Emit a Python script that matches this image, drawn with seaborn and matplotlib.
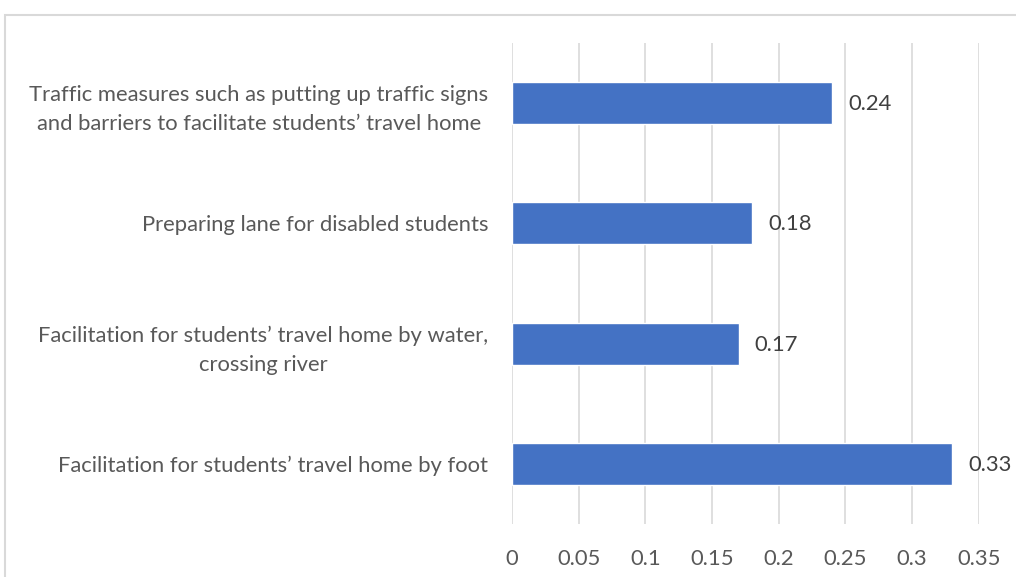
import matplotlib
matplotlib.use("Agg")
import matplotlib.pyplot as plt
import seaborn as sns
import pandas as pd
from matplotlib.patches import Rectangle

categories = [
    "Traffic measures such as putting up traffic signs\nand barriers to facilitate students\u2019 travel home",
    "Preparing lane for disabled students",
    "Facilitation for students\u2019 travel home by water,\ncrossing river",
    "Facilitation for students\u2019 travel home by foot",
]
values = [0.24, 0.18, 0.17, 0.33]
xticks = [0, 0.05, 0.1, 0.15, 0.2, 0.25, 0.3, 0.35]
xtick_labels = ["0", "0.05", "0.1", "0.15", "0.2", "0.25", "0.3", "0.35"]

sns.set_style("white")
plt.rcParams['font.family'] = ['Lato', 'DejaVu Sans']

df = pd.DataFrame({"cat": categories, "val": values})

fig = plt.figure(figsize=(10.16, 5.77), dpi=100)
ax = fig.add_axes([512/1016, 1-524/577, (978.7-512)/1016, (524-43)/577])

sns.barplot(data=df, y="cat", x="val", orient="h", color="#4472C4",
            width=0.35, ax=ax, saturation=1, zorder=3)

FS = 15.8
ax.set_xlim(0, 0.35)
ax.set_ylim(3.5, -0.5)
ax.set_xticks(xticks)
ax.set_xticklabels(xtick_labels)
ax.set_xlabel("")
ax.set_ylabel("")
for s in ax.spines.values():
    s.set_visible(False)
ax.grid(axis="x", color="#d9d9d9", linewidth=1.2, zorder=0)
ax.grid(axis="y", visible=False)
ax.tick_params(axis="x", length=0, pad=18, labelsize=FS, colors="#595959")
ax.tick_params(axis="y", length=0, pad=17, labelsize=FS, colors="#595959")
for lab in ax.get_yticklabels():
    lab.set_multialignment("center")
    lab.set_linespacing(1.55)

for i, v in enumerate(values):
    ax.annotate(f"{v:.2f}", xy=(v, i), xytext=(16, -1), textcoords="offset pixels",
                va="center", ha="left", fontsize=FS, color="#404040")

fig.patches.append(Rectangle((5/1016, -0.1), 1.2, 1 - 15/577 + 0.1, transform=fig.transFigure,
                             fill=False, edgecolor="#d9d9d9", linewidth=1.5))

fig.savefig("out.png", dpi=100, facecolor="white")
